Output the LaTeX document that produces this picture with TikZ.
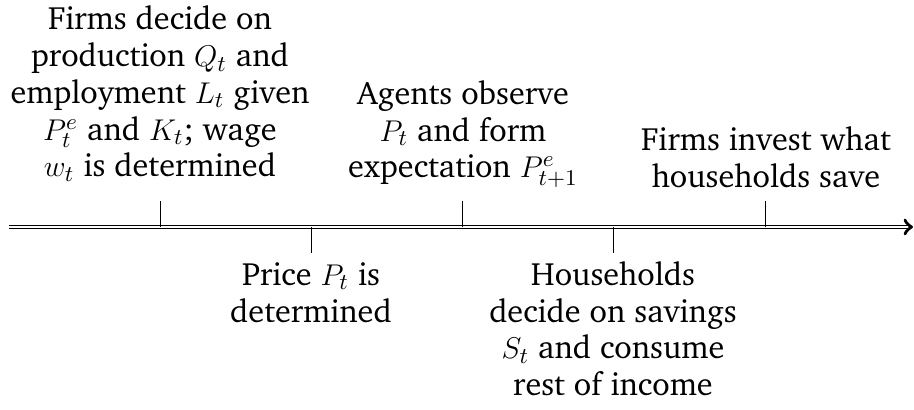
\documentclass[tikz,border=0pt]{standalone}
\usepackage[T1]{fontenc}
\usepackage{charter}
\usetikzlibrary{arrows}
\begin{document}
\begin{tikzpicture}[x=0.4pt,y=-0.4pt,
  lbl/.style={align=center,inner sep=0pt,font=\fontsize{12.9}{14.7}\selectfont},
  tick/.style={line width=0.4pt}]
\useasboundingbox (0,0) rectangle (914,410);
% timeline
\coordinate (L) at (9,227);
\coordinate (R) at (913,227);
\draw[double,double distance=0.6pt,->] (L) -- (R);
% tick coordinates
\coordinate (a0) at (160,227); \coordinate (a1) at (160,201);
\coordinate (b0) at (311,227); \coordinate (b1) at (311,253);
\coordinate (c0) at (462,227); \coordinate (c1) at (462,201);
\coordinate (d0) at (613,227); \coordinate (d1) at (613,253);
\coordinate (e0) at (765,227); \coordinate (e1) at (765,201);
\draw[tick] (a0) -- (a1);
\draw[tick] (b0) -- (b1);
\draw[tick] (c0) -- (c1);
\draw[tick] (d0) -- (d1);
\draw[tick] (e0) -- (e1);
% labels
\node[lbl,anchor=south] (ta) at (160,182) {Firms decide on\\production $Q_t$ and\\employment $L_t$ given\\$P_t^e$ and $K_t$; wage\\$w_t$ is determined};
\node[lbl,anchor=south] (tc) at (463,188) {Agents observe\\$P_t$ and form\\expectation $P_{t+1}^e$};
\node[lbl,anchor=south] (te) at (766,188) {Firms invest what\\households save};
\node[lbl,anchor=north] (tb) at (311,262) {Price $P_t$ is\\determined};
\node[lbl,anchor=north] (td) at (613,261) {Households\\decide on savings\\$S_t$ and consume\\rest of income};
\end{tikzpicture}
\end{document}
